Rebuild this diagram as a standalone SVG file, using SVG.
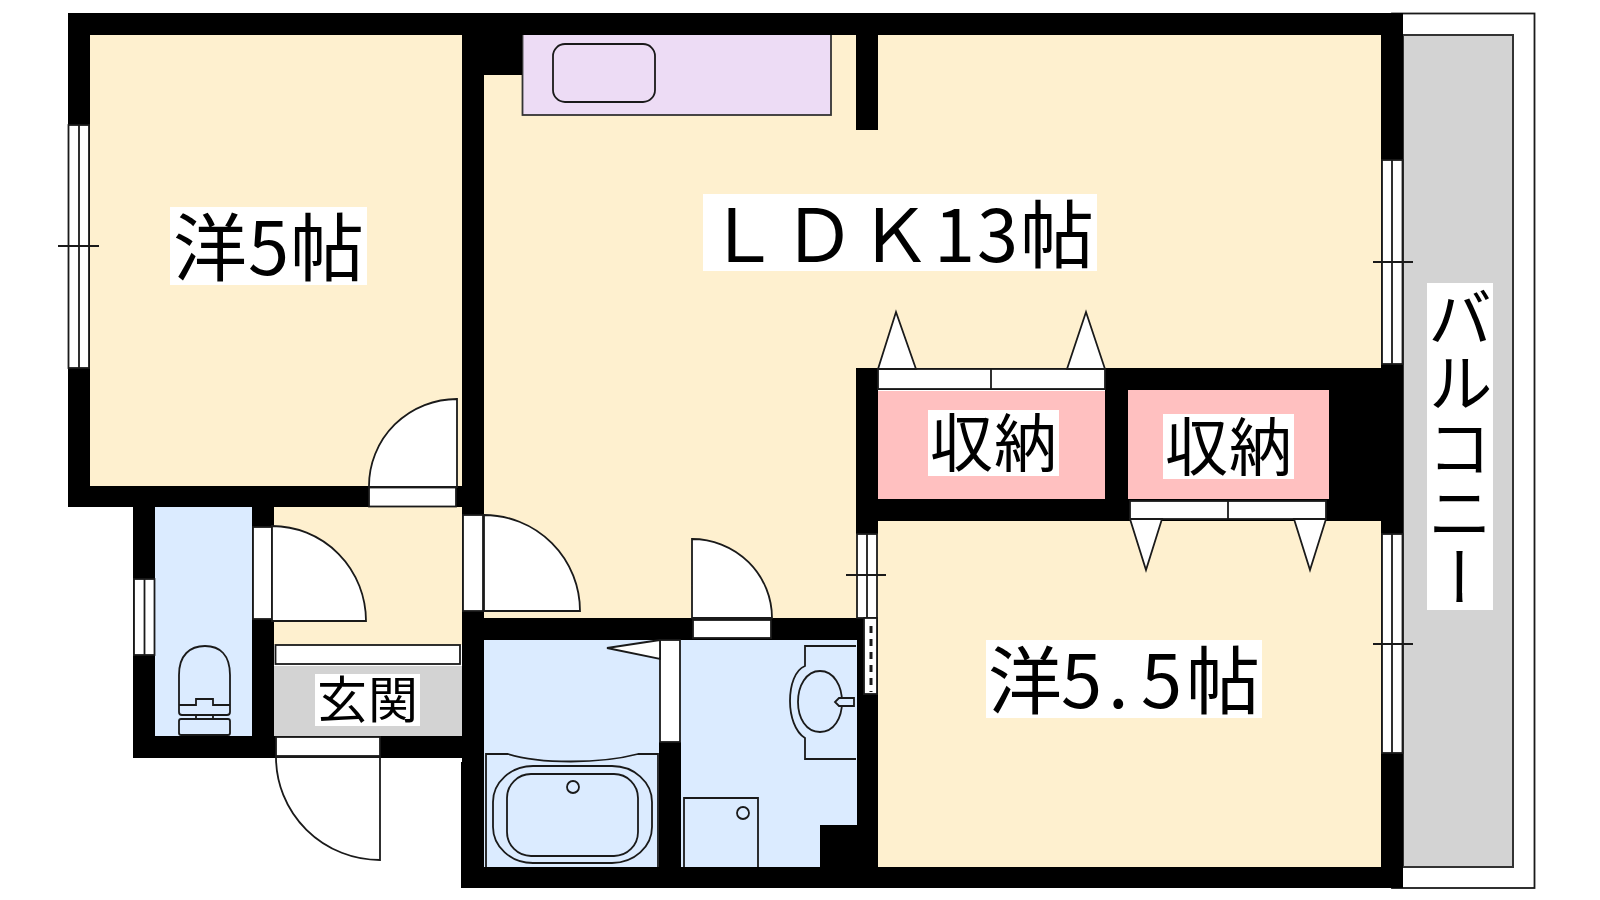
<svg xmlns="http://www.w3.org/2000/svg" width="1600" height="900" viewBox="0 0 1600 900">
<style>
.wall{fill:#000}
.y{fill:#fef0cf}
.b{fill:#dbebff}
.p{fill:#ffc0c0}
.g{fill:#d3d3d3}
.k{fill:#eddcf5}
.ln,.w,.d{stroke:#1a1a1a;stroke-width:1.8}
.ln{fill:none}
.w{fill:#fff}
.d{fill:#fff;stroke-linejoin:miter}
.fx{stroke:#1a1a1a;stroke-width:1.8;fill:none}
.bg{fill:#fff}
text{font-family:"Noto Sans CJK JP","Noto Sans",sans-serif;fill:#000}
</style>
<rect width="1600" height="900" fill="#fff"/>
<g id="balcony">
<rect x="1392" y="13.500" width="142.500" height="874.500" class="w"/>
<rect x="1403" y="35" width="110" height="832" class="g" stroke="#333" stroke-width="2"/>
</g>
<g id="rooms">
<rect id="room-west" x="88" y="33" width="376" height="455" class="y"/>
<rect id="room-ldk" x="482" y="33" width="901" height="337" class="y"/>
<rect x="482" y="33" width="376" height="587" class="y"/>
<rect id="room-east" x="876" y="519" width="507" height="350" class="y"/>
<rect id="hall" x="272" y="505" width="192" height="140" class="y"/>
<rect id="entry" x="272" y="666" width="192" height="72" class="g"/>
<rect id="wc" x="153" y="505" width="101" height="233" class="b"/>
<rect id="bath" x="482" y="638" width="180" height="231" class="b"/>
<rect id="wash" x="679" y="638" width="179" height="231" class="b"/>
<rect id="closet-a" x="876" y="391" width="231" height="110" class="p"/>
<rect id="closet-b" x="1126" y="390" width="205" height="111" class="p"/>
<rect id="kitchen" x="522.500" y="33" width="308.500" height="82" class="k" stroke="#333" stroke-width="1.800"/>
</g>
<g id="walls" class="wall">
<rect x="68" y="13" width="1335" height="22"/>
<rect x="68" y="13" width="22" height="494"/>
<rect x="68" y="486" width="416" height="21"/>
<rect x="462" y="13" width="22" height="854"/>
<rect x="461" y="762" width="23" height="126"/>
<rect x="484" y="35" width="38" height="40"/>
<rect x="856" y="35" width="22" height="95"/>
<rect x="1381" y="13" width="22" height="875"/>
<rect x="461" y="867" width="942" height="21"/>
<rect x="856" y="368" width="547" height="22"/>
<rect x="856" y="368" width="22" height="166"/>
<rect x="856" y="499" width="547" height="22"/>
<rect x="1105" y="368" width="23" height="153"/>
<rect x="1329" y="368" width="74" height="153"/>
<rect x="1381" y="368" width="22" height="166"/>
<rect x="857" y="618" width="21" height="270"/>
<rect x="484" y="618" width="373" height="22"/>
<rect x="659" y="742" width="22" height="130"/>
<rect x="820" y="825" width="40" height="45"/>
<rect x="133" y="507" width="22" height="251"/>
<rect x="133" y="736" width="329" height="22"/>
<rect x="252" y="507" width="22" height="251"/>
<rect x="462" y="610" width="22" height="60"/>
</g>
<g id="windows">
<g id="win-west"><rect x="68.500" y="125" width="20.500" height="243" class="w"/><path class="ln" d="M79 125V368M58 246H99"/></g>
<g id="win-ne"><rect x="1382" y="160" width="20.500" height="204" class="w"/><path class="ln" d="M1392 160V364M1373 262H1413"/></g>
<g id="win-se"><rect x="1382" y="534" width="20.500" height="219" class="w"/><path class="ln" d="M1392 534V753M1373 644H1413"/></g>
<g id="win-wc"><rect x="134" y="579" width="20.500" height="76" class="w"/><path class="ln" d="M144.500 579V655"/></g>
<g id="win-mid"><rect x="857" y="534" width="20" height="84" class="w"/><path class="ln" d="M867 534V618M846 575H886"/></g>
<g id="vent"><rect x="864" y="618" width="13" height="76" class="w"/><path d="M871 626V692" stroke="#1a1a1a" stroke-width="3" stroke-dasharray="7 6" fill="none"/></g>
</g>
<g id="doors">
<g id="door-west"><rect x="369" y="487.500" width="87" height="19" class="w"/><path class="d" d="M369 487V486A88 87 0 0 1 457 399V487Z"/></g>
<g id="door-wc"><rect x="253" y="527" width="19" height="92" class="w"/><path class="d" d="M272 526A94 95 0 0 1 366 621H272Z"/></g>
<g id="door-ldk"><rect x="463" y="515" width="20" height="96" class="w"/><path class="d" d="M484 515A96 96 0 0 1 580 611H484Z"/></g>
<g id="door-wash"><rect x="693" y="620" width="78" height="18" class="w"/><path class="d" d="M692 539A80 79 0 0 1 772 618H692Z"/></g>
<g id="door-step"><rect x="275.500" y="645" width="184.500" height="19" class="w"/></g>
<g id="door-front"><rect x="276" y="737" width="104" height="19" class="w"/><path class="d" d="M276 757A104 103 0 0 0 380 860V757Z"/></g>
<g id="door-bath"><rect x="660" y="640" width="20" height="102" class="w"/><path class="d" d="M660 640L607 648L660 659Z"/></g>
<g id="closet-a-doors"><rect x="878" y="369" width="227" height="20" class="w"/><path class="ln" d="M991 369V389"/><path class="d" d="M878 369L896 312L916 369Z"/><path class="d" d="M1067 369L1086 312L1105 369Z"/></g>
<g id="closet-b-doors"><rect x="1130" y="501" width="196" height="18" class="w"/><path class="ln" d="M1228 501V519"/><path class="d" d="M1130 519L1146 570L1162 519Z"/><path class="d" d="M1294 519L1310 570L1326 519Z"/></g>
</g>
<g id="fixtures">
<g id="sink"><rect x="553" y="44" width="102" height="58" rx="12" class="fx"/></g>
<g id="toilet" class="fx"><path d="M179 705V675C179 655 190 646 205 646C220 646 230 655 230 675V705"/><path d="M179 705V712Q179 715 182 715H227Q230 715 230 712V705M179 705H196V699H213V705H230"/><path d="M196 715V719M213 715V719"/><rect x="179" y="719" width="51" height="16" rx="2"/></g>
<g id="tub" class="fx"><path d="M486 867V754H508C540 764 600 764 638 754H658V867"/><rect x="493" y="766" width="159" height="97" rx="40" ry="36"/><rect x="507" y="774" width="131" height="82" rx="24"/><circle cx="573" cy="787" r="6"/></g>
<g id="basin" class="fx"><path d="M856 646H805V666C795 670 790 685 790 701C790 716 795 732 805 738V759H856"/><path d="M820 671C834 671 842 686 842 702C842 718 834 732 820 732C806 732 798 718 798 702C798 686 806 671 820 671Z"/><path d="M854 698H839L835 702L839 706H854Z" fill="#dbebff"/></g>
<g id="washer" class="fx"><path d="M684 867V798H758V867"/><circle cx="743" cy="813" r="6"/></g>
</g>
<g id="labels">
<g id="label-west"><rect x="170" y="207" width="197" height="78" class="bg"/><text x="173" y="275" font-size="74" textLength="191">洋5帖</text></g>
<g id="label-ldk"><rect x="703" y="194" width="394" height="77" class="bg"/><text x="706" y="262" font-size="74" textLength="388">ＬＤＫ13帖</text></g>
<g id="label-east"><rect x="986" y="640" width="276" height="78" class="bg"/><text x="988 1061 1108 1141 1186" y="708" font-size="74">洋5.5帖</text></g>
<g id="label-closet-a"><rect x="928" y="410" width="131" height="66" class="bg"/><text x="930" y="466" font-size="63" textLength="127">収納</text></g>
<g id="label-closet-b"><rect x="1163" y="414" width="131" height="65" class="bg"/><text x="1165" y="470" font-size="63" textLength="127">収納</text></g>
<g id="label-entry"><rect x="315" y="674" width="105" height="52" class="bg"/><text x="317" y="718" font-size="50" textLength="101">玄関</text></g>
<g id="label-balcony"><rect x="1427" y="283" width="66" height="327" class="bg"/><text x="1460" y="285" font-size="65" writing-mode="vertical-rl">バルコニー</text></g>
</g>
</svg>
